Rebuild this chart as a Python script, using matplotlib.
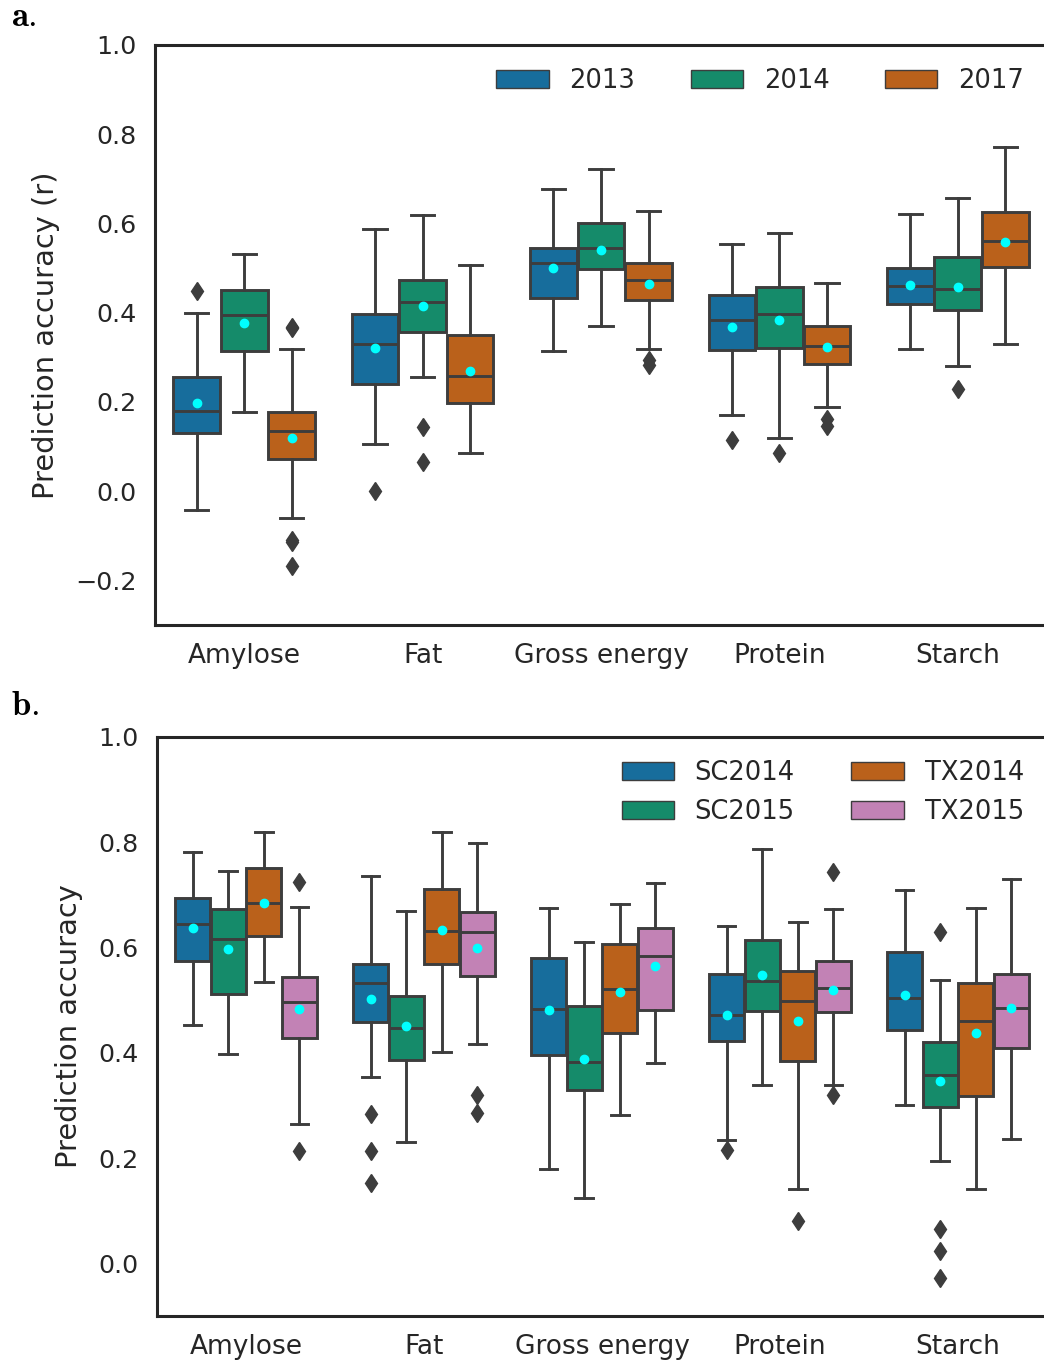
import matplotlib
matplotlib.use('Agg')
import matplotlib.pyplot as plt
import numpy as np
import seaborn as sns
from matplotlib.patches import Patch

# ---------------- data ----------------
categories = ['Amylose', 'Fat', 'Gross energy', 'Protein', 'Starch']

# Panel a (rows = series, cols = categories)
a_series = ['2013', '2014', '2017']
a_whislo = [[-0.043, 0.105, 0.314, 0.171, 0.319],
            [0.178, 0.256, 0.371, 0.120, 0.280],
            [-0.060, 0.085, 0.319, 0.188, 0.330]]
a_q1 = [[0.130, 0.240, 0.434, 0.316, 0.419],
        [0.315, 0.357, 0.497, 0.320, 0.407],
        [0.073, 0.197, 0.428, 0.285, 0.502]]
a_med = [[0.180, 0.330, 0.511, 0.383, 0.459],
         [0.395, 0.424, 0.545, 0.397, 0.454],
         [0.135, 0.258, 0.474, 0.326, 0.561]]
a_q3 = [[0.256, 0.397, 0.546, 0.439, 0.501],
        [0.451, 0.473, 0.602, 0.458, 0.524],
        [0.177, 0.349, 0.511, 0.370, 0.626]]
a_whishi = [[0.400, 0.588, 0.677, 0.554, 0.621],
            [0.532, 0.620, 0.722, 0.578, 0.656],
            [0.318, 0.508, 0.628, 0.466, 0.771]]
a_mean = [[0.197, 0.321, 0.500, 0.367, 0.462],
          [0.378, 0.416, 0.540, 0.383, 0.457],
          [0.120, 0.270, 0.465, 0.323, 0.558]]
a_fliers = [[[0.449], [0.0], [], [0.114], []],
            [[], [0.144, 0.066], [], [0.085], [0.228]],
            [[0.369, 0.365, -0.109, -0.115, -0.167], [], [0.294, 0.283], [0.161, 0.146], []]]

# Panel b
b_series = ['SC2014', 'SC2015', 'TX2014', 'TX2015']
b_whislo = [[0.453, 0.354, 0.179, 0.234, 0.300],
            [0.398, 0.230, 0.124, 0.339, 0.195],
            [0.534, 0.402, 0.281, 0.142, 0.141],
            [0.265, 0.416, 0.380, 0.338, 0.236]]
b_q1 = [[0.575, 0.458, 0.395, 0.423, 0.443],
        [0.511, 0.387, 0.330, 0.480, 0.297],
        [0.622, 0.569, 0.438, 0.385, 0.318],
        [0.429, 0.545, 0.481, 0.478, 0.410]]
b_med = [[0.645, 0.532, 0.484, 0.472, 0.505],
         [0.617, 0.447, 0.383, 0.536, 0.357],
         [0.684, 0.632, 0.522, 0.498, 0.461],
         [0.496, 0.629, 0.583, 0.524, 0.485]]
b_q3 = [[0.695, 0.569, 0.580, 0.549, 0.591],
        [0.674, 0.507, 0.488, 0.615, 0.421],
        [0.751, 0.712, 0.606, 0.555, 0.532],
        [0.544, 0.668, 0.638, 0.574, 0.550]]
b_whishi = [[0.782, 0.736, 0.676, 0.641, 0.709],
            [0.746, 0.669, 0.611, 0.788, 0.539],
            [0.820, 0.819, 0.682, 0.648, 0.676],
            [0.677, 0.798, 0.722, 0.674, 0.731]]
b_mean = [[0.637, 0.503, 0.481, 0.471, 0.510],
          [0.598, 0.451, 0.388, 0.548, 0.347],
          [0.685, 0.633, 0.516, 0.461, 0.438],
          [0.483, 0.600, 0.565, 0.519, 0.485]]
b_fliers = [[[], [0.283, 0.213, 0.153], [], [0.216], []],
            [[], [], [], [], [0.630, 0.066, 0.023, -0.028]],
            [[], [], [], [0.080], []],
            [[0.725, 0.213], [0.319, 0.286], [], [0.743, 0.319], []]]

# ---------------- style ----------------
plt.rcParams['font.family'] = ['DejaVu Sans']
plt.rcParams['mathtext.fontset'] = 'cm'
TXT = '#262626'
GRAY = '#3d3d3d'
LW = 2.1
pal = sns.color_palette('colorblind')
base_cols = [pal[0], pal[2], pal[3], pal[4]]
cols = [sns.desaturate(c, 0.75) for c in base_cols]

fig = plt.figure(figsize=(10.44, 13.63), dpi=100)
W, H = 1044.0, 1363.0
ax_a = fig.add_axes([155 / W, 1 - 625 / H, (1047 - 155) / W, (625 - 45) / H])
ax_b = fig.add_axes([157 / W, 1 - 1316 / H, (1047 - 157) / W, (1316 - 737) / H])


def draw(ax, series, colors, whislo, q1, med, q3, whishi, mean, fliers):
    n = len(series)
    w = 0.8 / n
    for i in range(n):
        stats = []
        for j in range(len(categories)):
            stats.append(dict(whislo=whislo[i][j], q1=q1[i][j], med=med[i][j],
                              q3=q3[i][j], whishi=whishi[i][j], mean=mean[i][j],
                              fliers=fliers[i][j]))
        pos = np.arange(len(categories)) - 0.4 + w * (i + 0.5)
        ax.bxp(stats, positions=pos, widths=w * 0.98, patch_artist=True,
               showmeans=True, manage_ticks=False,
               boxprops=dict(facecolor=colors[i], edgecolor=GRAY, linewidth=LW),
               medianprops=dict(color=GRAY, linewidth=LW),
               whiskerprops=dict(color=GRAY, linewidth=LW),
               capprops=dict(color=GRAY, linewidth=LW),
               flierprops=dict(marker='d', markerfacecolor=GRAY, markeredgecolor=GRAY,
                               markersize=9.5, linestyle='none'),
               meanprops=dict(marker='o', markerfacecolor='#00ffff',
                              markeredgecolor='#00ffff', markersize=6))
    ax.set_xlim(-0.5, len(categories) - 0.5)
    ax.set_xticks(np.arange(len(categories)))
    ax.set_xticklabels(categories)
    ax.tick_params(axis='x', length=0, pad=13, labelsize=19, colors=TXT)
    ax.tick_params(axis='y', length=0, pad=13, labelsize=18.3, colors=TXT)
    for s in ax.spines.values():
        s.set_color(TXT)
        s.set_linewidth(2.2)
    handles = [Patch(facecolor=colors[i], edgecolor=GRAY, linewidth=1.0, label=series[i])
               for i in range(n)]
    return handles


h_a = draw(ax_a, a_series, cols[:3], a_whislo, a_q1, a_med, a_q3, a_whishi, a_mean, a_fliers)
ax_a.set_ylim(-0.3, 1.0)
ax_a.set_yticks([-0.2, 0.0, 0.2, 0.4, 0.6, 0.8, 1.0])
ax_a.set_ylabel('Prediction accuracy (r)', fontsize=20.8, color=TXT, labelpad=11)
ax_a.legend(handles=h_a, ncol=3, loc='upper right', frameon=False, fontsize=18.5,
            handlelength=2.05, handleheight=0.72, handletextpad=0.8,
            columnspacing=2.15, labelcolor=TXT)

h_b = draw(ax_b, b_series, cols, b_whislo, b_q1, b_med, b_q3, b_whishi, b_mean, b_fliers)
ax_b.set_ylim(-0.1, 1.0)
ax_b.set_yticks([0.0, 0.2, 0.4, 0.6, 0.8, 1.0])
ax_b.set_ylabel('Prediction accuracy', fontsize=20.8, color=TXT, labelpad=11)
ax_b.legend(handles=h_b, ncol=2, loc='upper right', frameon=False, fontsize=18.5,
            handlelength=2.05, handleheight=0.72, handletextpad=0.8,
            columnspacing=2.2, labelspacing=0.5, labelcolor=TXT)

fig.text(11 / W, 1 - 26 / H, r'$\mathbf{a.}$', fontsize=25, color='black', va='baseline')
fig.text(11 / W, 1 - 715 / H, r'$\mathbf{b.}$', fontsize=25, color='black', va='baseline')

fig.savefig('out.png', dpi=100)
